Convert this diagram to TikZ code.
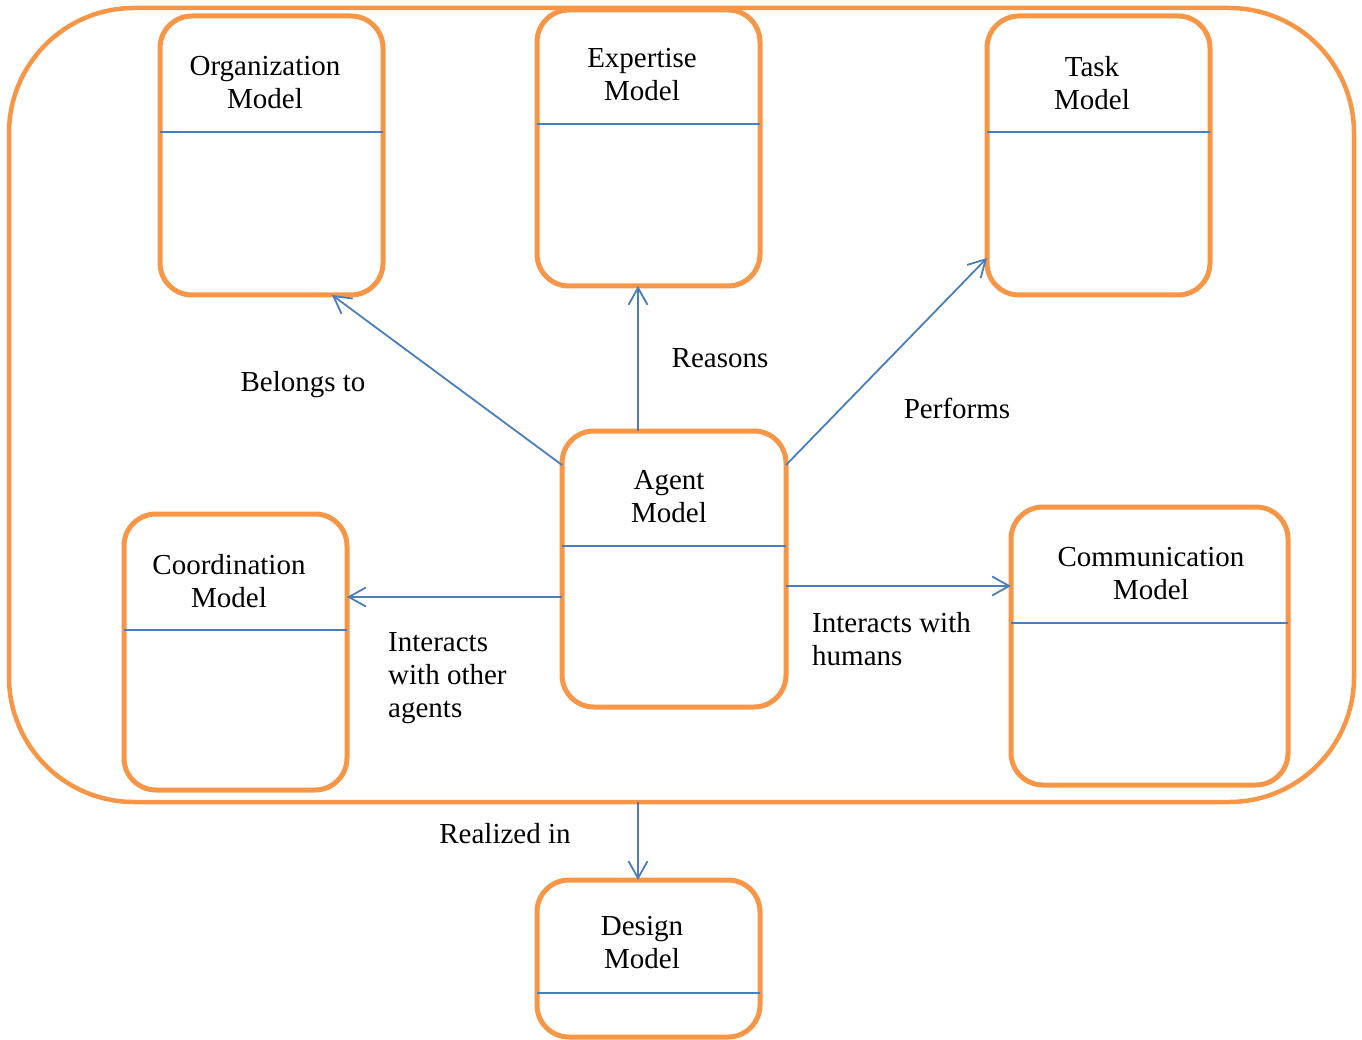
\documentclass[tikz,border=0pt]{standalone}
\usepackage{fontspec}
\setmainfont{Liberation Serif}
\usetikzlibrary{arrows.meta}
\definecolor{frameorange}{HTML}{F79646}
\definecolor{linkblue}{HTML}{4A7EBB}

\begin{document}
\begin{tikzpicture}[x=1pt,y=-1pt,
  modelbox/.style={draw=frameorange, line width=5pt, rounded corners=32pt,
    inner sep=0pt, outer sep=0pt},
  title/.style={font=\fontsize{29}{33}\selectfont, align=center, inner sep=0pt},
  lbl/.style={font=\fontsize{29}{33}\selectfont, inner sep=0pt},
  divider/.style={draw=linkblue, line width=1.8pt},
  link/.style={draw=linkblue, line width=1.8pt,
    -{Straight Barb[length=17pt,width=19pt]}}]

\useasboundingbox (0,0) rectangle (1362,1040);

% enclosing frame
\node[modelbox, line width=4.5pt, rounded corners=125pt,
  minimum width=1345pt, minimum height=794pt] (frame) at (681.5,405) {};

% model boxes
\node[modelbox, minimum width=223pt, minimum height=279pt] (org)    at (271.5,155.5) {};
\node[modelbox, minimum width=223pt, minimum height=276pt] (exp)    at (648.5,148) {};
\node[modelbox, minimum width=223pt, minimum height=279pt] (task)   at (1098.5,155.5) {};
\node[modelbox, minimum width=224pt, minimum height=276pt] (agent)  at (674,569) {};
\node[modelbox, minimum width=223pt, minimum height=276pt] (coord)  at (235.5,652) {};
\node[modelbox, minimum width=277pt, minimum height=278pt] (comm)   at (1149.5,646) {};
\node[modelbox, minimum width=223pt, minimum height=157pt] (design) at (648.5,958.5) {};

% dividers below the titles
\draw[divider] (org.west |- 0,132) -- (org.east |- 0,132);
\draw[divider] (exp.west |- 0,124) -- (exp.east |- 0,124);
\draw[divider] (task.west |- 0,132) -- (task.east |- 0,132);
\draw[divider] (agent.west |- 0,546) -- (agent.east |- 0,546);
\draw[divider] (coord.west |- 0,630) -- (coord.east |- 0,630);
\draw[divider] (comm.west |- 0,623) -- (comm.east |- 0,623);
\draw[divider] (design.west |- 0,993) -- (design.east |- 0,993);

% titles
\node[title] (org-t)    at (265,83)   {Organization\\Model};
\node[title] (exp-t)    at (642,75)   {Expertise\\Model};
\node[title] (task-t)   at (1092,83)  {Task\\Model};
\node[title] (agent-t)  at (669,497)  {Agent\\Model};
\node[title] (coord-t)  at (229,581)  {Coordination\\Model};
\node[title] (comm-t)   at (1151,574) {Communication\\Model};
\node[title] (design-t) at (642,943)  {Design\\Model};

% relations
\draw[link] (agent.west |- 0,465) -- (org.south -| 332,0);
\draw[link] (agent.north -| 638,0) -- (exp.south -| 638,0);
\draw[link] (agent.east |- 0,465) -- (task.west |- 0,258);
\draw[link] (agent.west |- 0,597) -- (coord.east |- 0,597);
\draw[link] (agent.east |- 0,586) -- (comm.west |- 0,586);
\draw[link] (frame.south -| 638,0) -- (design.north -| 638,0);

% relation labels
\node[lbl] (l-belongs)  at (303,385) {Belongs to};
\node[lbl] (l-reasons)  at (720,358) {Reasons};
\node[lbl] (l-performs) at (957,408) {Performs};
\node[lbl, align=left, anchor=west] (l-agents) at (388,678) {Interacts\\with other\\agents};
\node[lbl, align=left, anchor=west] (l-humans) at (812,639) {Interacts with\\humans};
\node[lbl] (l-realized) at (505,834) {Realized in};

\end{tikzpicture}
\end{document}
